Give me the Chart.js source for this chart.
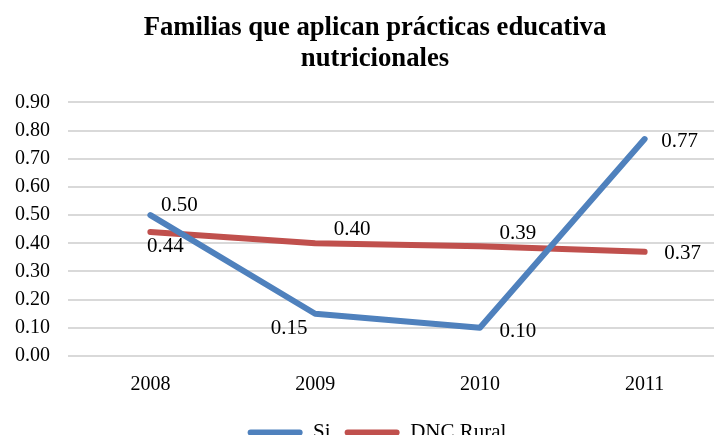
<!DOCTYPE html>
<html>
<head>
<meta charset="utf-8">
<script src="https://cdn.jsdelivr.net/npm/chart.js@4.4.1/dist/chart.umd.min.js"></script>
<style>
    html, body { margin: 0; padding: 0; background: #fff; overflow: hidden; }
    .c-wrap { width: 714px; height: 435px; overflow: hidden; }
    .c-box { width: 754px; height: 453px; }
</style>
</head>
<body>
<div class="c-wrap"><div class="c-box"><canvas class="js-graph-canvas"></canvas></div></div>
<script>
const years = ['2008', '2009', '2010', '2011'];
const siValues = [0.50, 0.15, 0.10, 0.77];
const dncValues = [0.44, 0.40, 0.39, 0.37];
const titleLines = ['Familias que aplican prácticas educativa', 'nutricionales'];

// where each value label sits relative to its point (px)
const labelOffsets = [
    [[29, -10], [-26, 15], [38, 4], [35, 2]],
    [[15, 14], [37, -14], [38, -13], [38, 2]]
];

const serif = '"Liberation Serif", "Times New Roman", serif';
Chart.defaults.font.family = serif;
Chart.defaults.color = '#000';

const valueLabels = {
    id: 'valueLabels',
    afterDatasetsDraw(chart) {
        const ctx = chart.ctx;
        ctx.save();
        ctx.font = '21px ' + serif;
        ctx.fillStyle = '#000';
        ctx.textAlign = 'center';
        ctx.textBaseline = 'middle';
        chart.data.datasets.forEach((ds, i) => {
            chart.getDatasetMeta(i).data.forEach((pt, j) => {
                const off = labelOffsets[i][j];
                ctx.fillText(ds.data[j].toFixed(2), pt.x + off[0], pt.y + off[1]);
            });
        });
        ctx.restore();
    }
};

// title and legend are centred on the whole canvas, not just left of the right padding
const centreBoxes = {
    id: 'centreBoxes',
    afterLayout(chart) {
        chart.legend.right = chart.width;
        chart.legend.width = chart.width - chart.legend.left;
        chart.titleBlock.right = chart.width - 4;
        chart.titleBlock.width = chart.titleBlock.right - chart.titleBlock.left;
    }
};

const ctx = document.querySelector('.js-graph-canvas');
new Chart(ctx, {
    type: 'line',
    data: {
        labels: years,
        datasets: [{
            label: 'Si',
            data: siValues,
            borderColor: '#4F81BD',
            backgroundColor: '#4F81BD',
            borderWidth: 6,
            pointRadius: 0,
            borderCapStyle: 'round',
            borderJoinStyle: 'round',
            tension: 0
        }, {
            label: 'DNC Rural',
            data: dncValues,
            borderColor: '#C0504D',
            backgroundColor: '#C0504D',
            borderWidth: 6,
            pointRadius: 0,
            borderCapStyle: 'round',
            borderJoinStyle: 'round',
            tension: 0
        }]
    },
    options: {
        responsive: true,
        maintainAspectRatio: false,
        animation: false,
        layout: { padding: { left: 0, right: 27, top: 0, bottom: 0 } },
        scales: {
            x: {
                offset: true,
                grid: { display: false },
                border: { display: false },
                ticks: { color: '#000', font: { family: serif, size: 20 }, padding: 9 },
                afterFit(s) { s.height = 52; }
            },
            y: {
                min: 0,
                max: 0.9,
                ticks: {
                    stepSize: 0.1,
                    color: '#000',
                    font: { family: serif, size: 20 },
                    padding: 18,
                    callback: v => v.toFixed(2)
                },
                grid: { color: '#D9D9D9', lineWidth: 2, drawTicks: false },
                border: { display: false },
                afterFit(s) { s.width = 68; }
            }
        },
        plugins: {
            title: {
                display: true,
                text: titleLines,
                color: '#000',
                font: { family: serif, size: 26.7, weight: 'bold', lineHeight: 1.17 },
                padding: { top: 12, bottom: 28 }
            },
            legend: {
                position: 'bottom',
                labels: {
                    color: '#000',
                    font: { family: serif, size: 21 },
                    boxWidth: 55,
                    boxHeight: 6,
                    useBorderRadius: true,
                    borderRadius: 3,
                    padding: 14,
                    generateLabels(chart) {
                        return Chart.defaults.plugins.legend.labels.generateLabels(chart).map(l => {
                            l.lineWidth = 0;
                            l.fillStyle = l.strokeStyle;
                            return l;
                        });
                    }
                }
            },
            tooltip: { enabled: false }
        }
    },
    plugins: [valueLabels, centreBoxes]
});
</script>
</body>
</html>
